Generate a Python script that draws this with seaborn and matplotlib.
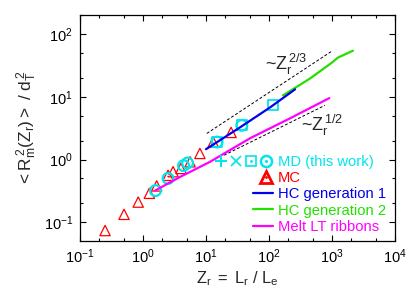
import matplotlib
matplotlib.use("Agg")
import matplotlib.pyplot as plt
import seaborn as sns
from matplotlib.lines import Line2D
from matplotlib.legend_handler import HandlerTuple
from matplotlib.ticker import LogLocator, NullFormatter

# ---- data ----
mc_x = [0.25, 0.5, 0.84, 1.26, 1.65, 2.5, 3.0, 4.0, 5.6, 8.0, 13.0, 25.0]
mc_y = [0.074, 0.134, 0.21, 0.29, 0.38, 0.56, 0.64, 0.72, 0.92, 1.25, 1.9, 2.7]

md_circle_x = [1.58, 2.5, 4.4, 5.1, 15.0, 37.0]
md_circle_y = [0.32, 0.50, 0.80, 0.88, 1.9, 3.5]
md_square_x = [15.0, 37.0, 117.0]
md_square_y = [1.9, 3.5, 7.3]

hc1_x = [10.0, 34.7, 104.0, 259.0]
hc1_y = [1.46, 3.25, 6.76, 13.1]
hc2_x = [167.0, 448.0, 1000.0, 1245.0, 2150.0]
hc2_y = [10.5, 19.5, 35.0, 42.0, 54.0]
melt_x = [1.55, 3.9, 11.6, 50.0, 215.0, 906.0]
melt_y = [0.32, 0.53, 0.92, 2.18, 4.52, 9.5]

guide23_x = [10.3, 990.0]
guide23_y = [2.6, 53.0]
guide12_x = [19.3, 775.0]
guide12_y = [1.17, 7.3]

labels = ["MD (this work)", "MC", "HC generation 1", "HC generation 2", "Melt LT ribbons"]
c_md, c_mc, c_hc1, c_hc2, c_melt = "#00e5ee", "#ff0000", "#0000ee", "#22e000", "#ff00ff"

sns.set_style("ticks")
plt.rcParams.update({
    "font.family": ["Liberation Sans", "DejaVu Sans"],
    "font.size": 10.5,
    "mathtext.fontset": "custom",
    "mathtext.rm": "Liberation Sans",
    "mathtext.it": "Liberation Sans:italic",
    "mathtext.bf": "Liberation Sans:bold",
})

fig = plt.figure(figsize=(4.15, 2.97), dpi=100)
ax = fig.add_axes([80 / 415, 1 - 240.7 / 297, 315 / 415, 225.7 / 297])

# guide lines
sns.lineplot(x=guide23_x, y=guide23_y, ax=ax, color="black", lw=0.7,
             linestyle=(0, (3, 2)), legend=False, estimator=None, sort=False)
sns.lineplot(x=guide12_x, y=guide12_y, ax=ax, color="black", lw=0.7,
             linestyle=(0, (3, 2)), legend=False, estimator=None, sort=False)

# markers
sns.scatterplot(x=mc_x, y=mc_y, ax=ax, marker="^", s=55, facecolors="none",
                edgecolor=c_mc, linewidth=0.9, legend=False, zorder=3)
sns.scatterplot(x=mc_x, y=mc_y, ax=ax, marker=".", s=2, color=c_mc,
                linewidth=0, legend=False, zorder=3)
sns.scatterplot(x=md_circle_x, y=md_circle_y, ax=ax, marker="o", s=60,
                facecolors="none", edgecolor=c_md, linewidth=1.6, legend=False, zorder=3)
sns.scatterplot(x=md_square_x, y=md_square_y, ax=ax, marker="s", s=50,
                facecolors="none", edgecolor=c_md, linewidth=1.3, legend=False, zorder=3)
sns.scatterplot(x=md_square_x, y=md_square_y, ax=ax, marker=".", s=3,
                color=c_md, linewidth=0, legend=False, zorder=3)

# lines
sns.lineplot(x=hc2_x, y=hc2_y, ax=ax, color=c_hc2, lw=1.6, legend=False,
             estimator=None, sort=False, zorder=4)
sns.lineplot(x=hc1_x, y=hc1_y, ax=ax, color=c_hc1, lw=1.6, legend=False,
             estimator=None, sort=False, zorder=5)
sns.lineplot(x=melt_x, y=melt_y, ax=ax, color=c_melt, lw=1.6, legend=False,
             estimator=None, sort=False, zorder=5)

ax.set_xscale("log")
ax.set_yscale("log")
ax.set_xlim(0.1, 1e4)
ax.set_ylim(0.051, 200)

for axis in (ax.xaxis, ax.yaxis):
    axis.set_major_locator(LogLocator(base=10, numticks=20))
    axis.set_minor_locator(LogLocator(base=10, subs=(2.0, 5.0), numticks=20))
    axis.set_minor_formatter(NullFormatter())
ax.tick_params(which="both", direction="in", top=True, right=True, width=0.8,
               labelsize=10.5, colors="black")
ax.tick_params(which="major", length=4.5, pad=5)
ax.tick_params(which="minor", length=2.5)
for s in ax.spines.values():
    s.set_linewidth(0.9)
    s.set_color("black")

ax.set_xlabel(r"$\mathregular{Z_r\ =\ L_r\ /\ L_e}$", fontsize=11.8, labelpad=2)
ax.set_ylabel(r"$\mathregular{<R_m^{\,2}(Z_r)>\ /\ d_T^{\,2}}$", fontsize=12.4, labelpad=3)

# slope annotations
ax.text(190, 33.0, r"~$\mathregular{Z_r^{\,2/3}}$", ha="center", va="center", fontsize=13)
ax.text(700, 3.55, r"~$\mathregular{Z_r^{\,1/2}}$", ha="center", va="center", fontsize=13)

# legend
def blank():
    return Line2D([], [], linestyle="none")

h_plus = Line2D([], [], linestyle="none", marker="+", markersize=8, mew=1.5, color=c_md)
h_x = Line2D([], [], linestyle="none", marker="x", markersize=7, mew=1.2, color=c_md)
h_sq = (Line2D([], [], linestyle="none", marker="s", markersize=7, mfc="none", mew=1.2, color=c_md),
        Line2D([], [], linestyle="none", marker=".", markersize=2, color=c_md))
h_ci = (Line2D([], [], linestyle="none", marker="o", markersize=8, mfc="none", mew=1.8, color=c_md),
        Line2D([], [], linestyle="none", marker=".", markersize=2.5, color=c_md))
h_md = (h_plus, h_x, h_sq, h_ci)
h_mc = (blank(), blank(), blank(),
        (Line2D([], [], linestyle="none", marker="^", markersize=8, mfc="none", mew=2.0, color=c_mc),
         Line2D([], [], linestyle="none", marker=".", markersize=2, color=c_mc)))
h_hc1 = (blank(), blank(), Line2D([], [], color=c_hc1, lw=1.6))
h_hc2 = (blank(), blank(), Line2D([], [], color=c_hc2, lw=1.6))
h_melt = (blank(), blank(), Line2D([], [], color=c_melt, lw=1.6))
handles = [h_md, h_mc, h_hc1, h_hc2, h_melt]
hmap = {h: HandlerTuple(ndivide=None, pad=0) for h in handles}

leg = ax.legend(handles, labels, handler_map=hmap, loc="upper left",
                bbox_to_anchor=((214 - 80) / 315, 1 - (155 - 15) / 225.7),
                frameon=False, borderpad=0, borderaxespad=0, handlelength=4.0,
                handletextpad=0.35, labelspacing=0.15, fontsize=10.6)
for t, c in zip(leg.get_texts(), [c_md, c_mc, c_hc1, c_hc2, c_melt]):
    t.set_color(c)

fig.savefig("out.png", dpi=100)
